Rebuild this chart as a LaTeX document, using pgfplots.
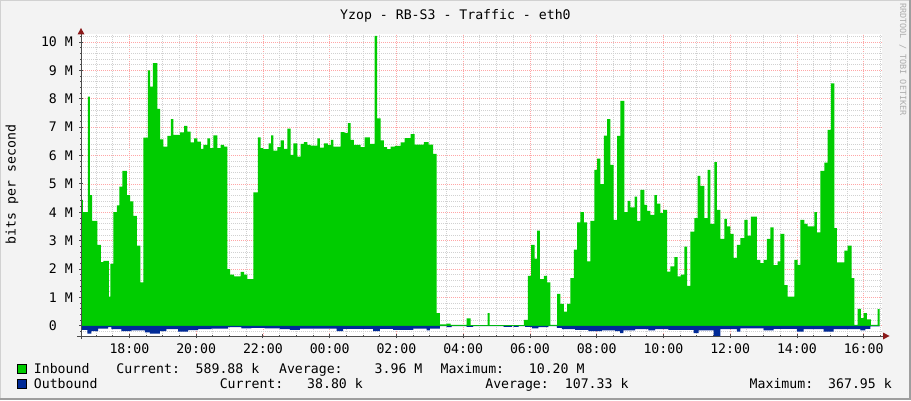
\documentclass[border=0pt]{standalone}
\usepackage{fontspec}
\setmonofont{DejaVu Sans Mono}
\usepackage{pgfplots}
\usepackage{pgfplotstable}
\pgfplotsset{compat=1.18}
\definecolor{inb}{HTML}{00CC00}
\definecolor{outb}{HTML}{002A97}
\definecolor{bgc}{HTML}{F3F3F3}
\definecolor{arrowc}{HTML}{8B1A1A}
\newcommand{\rfont}{\ttfamily\fontsize{13.2bp}{15bp}\selectfont}

\pgfplotstableread{
h v
16.554 4.44
16.605 4.00
16.754 8.07
16.814 4.60
16.883 3.70
17.042 2.85
17.144 2.24
17.222 2.29
17.383 1.03
17.431 2.18
17.521 4.00
17.623 4.24
17.701 4.90
17.790 5.46
17.922 4.60
18.021 4.38
18.120 3.87
18.222 2.82
18.329 1.53
18.419 6.63
18.551 9.00
18.620 8.43
18.701 9.25
18.838 7.64
18.919 6.57
19.018 6.31
19.138 6.69
19.240 7.28
19.317 6.73
19.518 6.81
19.638 7.04
19.737 6.84
19.838 6.46
19.937 6.60
20.036 6.49
20.138 6.23
20.216 6.37
20.335 6.60
20.416 6.26
20.515 6.71
20.635 6.26
20.737 6.37
20.835 6.31
20.934 2.00
21.015 1.80
21.135 1.74
21.335 1.90
21.434 1.80
21.533 1.64
21.713 4.70
21.853 6.64
21.934 6.26
22.012 6.22
22.174 6.43
22.243 6.71
22.311 6.17
22.431 6.29
22.533 6.53
22.632 6.23
22.731 6.95
22.832 6.02
22.910 6.43
23.030 5.96
23.132 6.41
23.231 6.47
23.329 6.37
23.431 6.35
23.629 6.60
23.710 6.28
23.829 6.43
23.949 6.37
24.039 6.55
24.108 6.31
24.329 6.82
24.449 6.79
24.548 7.14
24.629 6.55
24.728 6.37
24.928 6.29
25.048 6.64
25.207 6.41
25.347 10.21
25.425 7.31
25.527 6.53
25.626 6.29
25.725 6.22
25.826 6.31
25.955 6.34
26.126 6.46
26.246 6.61
26.425 6.75
26.545 6.38
26.823 6.47
26.964 6.38
27.102 6.06
27.204 0.45
27.302 0.05
27.503 0.08
27.623 0.03
28.102 0.26
28.222 0.02
28.731 0.45
28.790 0.02
29.817 0.21
29.937 1.76
30.036 2.85
30.138 2.37
30.216 3.35
30.296 1.64
30.416 1.76
30.515 1.53
30.617 0.03
30.814 1.12
30.916 0.77
31.015 0.50
31.114 0.77
31.216 1.68
31.314 2.68
31.413 3.64
31.515 4.00
31.614 3.64
31.713 2.27
31.814 3.70
31.934 5.49
32.012 5.89
32.114 4.99
32.213 6.70
32.311 7.28
32.413 5.67
32.512 3.73
32.611 6.69
32.713 7.92
32.832 4.00
32.931 4.40
33.012 4.17
33.141 4.55
33.210 3.70
33.311 4.79
33.431 4.26
33.509 4.05
33.611 3.91
33.731 4.60
33.808 4.30
33.910 3.97
33.988 4.08
34.108 1.91
34.210 2.09
34.329 2.42
34.428 1.74
34.527 1.80
34.629 2.79
34.707 1.41
34.808 3.32
34.928 3.79
35.027 5.28
35.108 4.93
35.228 3.79
35.327 5.49
35.407 3.59
35.527 5.77
35.605 4.08
35.707 3.06
35.826 3.77
35.904 3.50
36.006 3.24
36.105 2.39
36.204 2.85
36.305 3.09
36.425 3.73
36.524 3.18
36.623 3.85
36.802 2.32
36.904 2.21
37.003 2.32
37.102 3.06
37.204 3.47
37.302 2.14
37.422 2.27
37.503 3.24
37.623 1.43
37.722 1.03
37.922 2.32
38.021 2.15
38.102 3.73
38.222 3.59
38.320 3.50
38.521 4.00
38.599 3.29
38.701 5.46
38.820 5.75
38.919 6.90
39.018 8.54
39.120 3.44
39.198 2.23
39.419 2.65
39.518 2.82
39.638 1.68
39.719 0.03
39.817 0.60
39.916 0.27
39.997 0.45
40.096 0.23
40.216 0.03
40.416 0.59
40.476 0.59
}\inbound

\pgfplotstableread{
h v
16.554 -0.14
16.743 -0.28
16.862 -0.19
17.063 -0.10
17.362 -0.05
17.461 -0.12
17.760 -0.19
18.060 -0.16
18.461 -0.23
18.611 -0.28
18.910 -0.19
19.108 -0.12
19.458 -0.21
19.757 -0.15
20.057 -0.12
20.455 -0.10
20.955 -0.05
21.353 -0.09
21.653 -0.07
22.054 -0.09
22.512 -0.12
22.811 -0.14
23.111 -0.10
24.210 -0.19
24.407 -0.11
25.305 -0.19
25.506 -0.11
25.904 -0.14
26.503 -0.10
26.904 -0.16
27.003 -0.10
27.302 -0.01
27.503 -0.05
27.653 -0.01
28.102 -0.04
28.299 -0.01
29.210 -0.04
29.458 -0.01
29.509 -0.04
29.659 -0.01
29.856 -0.04
30.057 -0.09
30.257 -0.05
30.557 -0.01
30.805 -0.07
30.955 -0.12
31.353 -0.14
31.754 -0.19
32.153 -0.16
32.551 -0.19
32.701 -0.26
32.802 -0.16
33.150 -0.12
33.551 -0.16
33.749 -0.12
34.150 -0.14
34.608 -0.14
34.907 -0.26
35.057 -0.16
35.506 -0.37
35.707 -0.12
36.204 -0.21
36.305 -0.09
37.003 -0.16
37.302 -0.11
38.000 -0.21
38.201 -0.12
38.800 -0.21
39.099 -0.12
39.898 -0.16
40.048 -0.11
40.198 -0.02
40.476 -0.02
}\outbound

\begin{document}
\begin{tikzpicture}[x=1bp,y=1bp]
\fill[bgc] (0,0) rectangle (911,400);
\draw[line width=1bp, black!18] (0.5,0) -- (0.5,399.5) -- (911,399.5);
\draw[line width=2bp, black!38] (0,1) -- (910,1) -- (910,400);

\begin{axis}[
  at={(81bp,64bp)}, anchor=south west,
  scale only axis, width=801bp, height=302bp,
  xmin=16.55, xmax=40.55, ymin=-0.36, ymax=10.28,
  axis background/.style={fill=white},
  axis lines*=left,
  axis line style={black!70, line width=1bp},
  xtick={18,20,...,40},
  xticklabels={18:00,20:00,22:00,00:00,02:00,04:00,06:00,08:00,10:00,12:00,14:00,16:00},
  minor xtick={17,17.5,18.5,19,19.5,20.5,21,21.5,22.5,23,23.5,24.5,25,25.5,26.5,27,27.5,28.5,29,29.5,30.5,31,31.5,32.5,33,33.5,34.5,35,35.5,36.5,37,37.5,38.5,39,39.5,40.5},
  ytick={0,1,...,10},
  yticklabels={0\phantom{\ M},1 M,2 M,3 M,4 M,5 M,6 M,7 M,8 M,9 M,10 M},
  minor ytick={-0.2,0.2,0.4,0.6,0.8,1.2,1.4,1.6,1.8,2.2,2.4,2.6,2.8,3.2,3.4,3.6,3.8,4.2,4.4,4.6,4.8,5.2,5.4,5.6,5.8,6.2,6.4,6.6,6.8,7.2,7.4,7.6,7.8,8.2,8.4,8.6,8.8,9.2,9.4,9.6,9.8,10.2},
  grid=both,
  major grid style={red!35, line width=0.7bp, dash pattern=on 1bp off 1bp},
  minor grid style={black!18, line width=0.7bp, dash pattern=on 1bp off 1bp},
  tick align=center,
  major tick length=4bp, minor tick length=2bp,
  tick style={black!70, line width=0.8bp},
  ticklabel style={font=\rfont, text=black},
  xticklabel style={anchor=north, inner sep=0pt, yshift=-5bp},
  yticklabel style={anchor=east, inner sep=0pt, xshift=-6bp},
  clip=true,
]
\addplot[const plot mark left, fill=inb, draw=none] table[x=h,y=v]{\inbound} \closedcycle;
\addplot[const plot mark left, fill=outb, draw=none] table[x=h,y=v]{\outbound} \closedcycle;
\end{axis}

% axis extensions and arrows
\draw[black!70, line width=1bp] (81,61) -- (81,367);
\draw[black!70, line width=1bp] (77,64) -- (884,64);
\fill[arrowc] (77.5,365.5) -- (84.5,365.5) -- (81,372) -- cycle;
\fill[arrowc] (883,60.5) -- (883,67.5) -- (889.5,64) -- cycle;

% title
\node[font=\rfont, anchor=base west, inner sep=0pt] at (340,380.7) {Yzop - RB-S3 - Traffic - eth0};
% y label
\node[font=\rfont, anchor=base, rotate=90, inner sep=0pt] at (15.5,215.5) {bits per second};
% watermark
\node[font=\ttfamily\fontsize{8.5bp}{10bp}\selectfont, text=black!32, anchor=base west, rotate=-90, inner sep=0pt] at (900,397) {RRDTOOL / TOBI OETIKER};

% legend
\filldraw[fill=inb, draw=black, line width=0.6bp] (17.5,27) rectangle (26.5,36);
\filldraw[fill=outb, draw=black, line width=0.6bp] (17.5,11.5) rectangle (26.5,20.5);
\begin{scope}[every node/.style={font=\rfont, anchor=base west, inner sep=0pt}]
\node at (33.7,26.7) {Inbound};
\node at (116.2,26.7) {Current:};
\node at (195.5,26.7) {589.88 k};
\node at (278.9,26.7) {Average:};
\node at (374.5,26.7) {3.96 M};
\node at (440.4,26.7) {Maximum:};
\node at (528.7,26.7) {10.20 M};
\node at (33.7,11.3) {Outbound};
\node at (219.6,11.3) {Current:};
\node at (307.0,11.3) {38.80 k};
\node at (485.1,11.3) {Average:};
\node at (564.7,11.3) {107.33 k};
\node at (749.5,11.3) {Maximum:};
\node at (828.0,11.3) {367.95 k};
\end{scope}

\pgfresetboundingbox
\useasboundingbox (0,0) rectangle (911,400);
\end{tikzpicture}
\end{document}
